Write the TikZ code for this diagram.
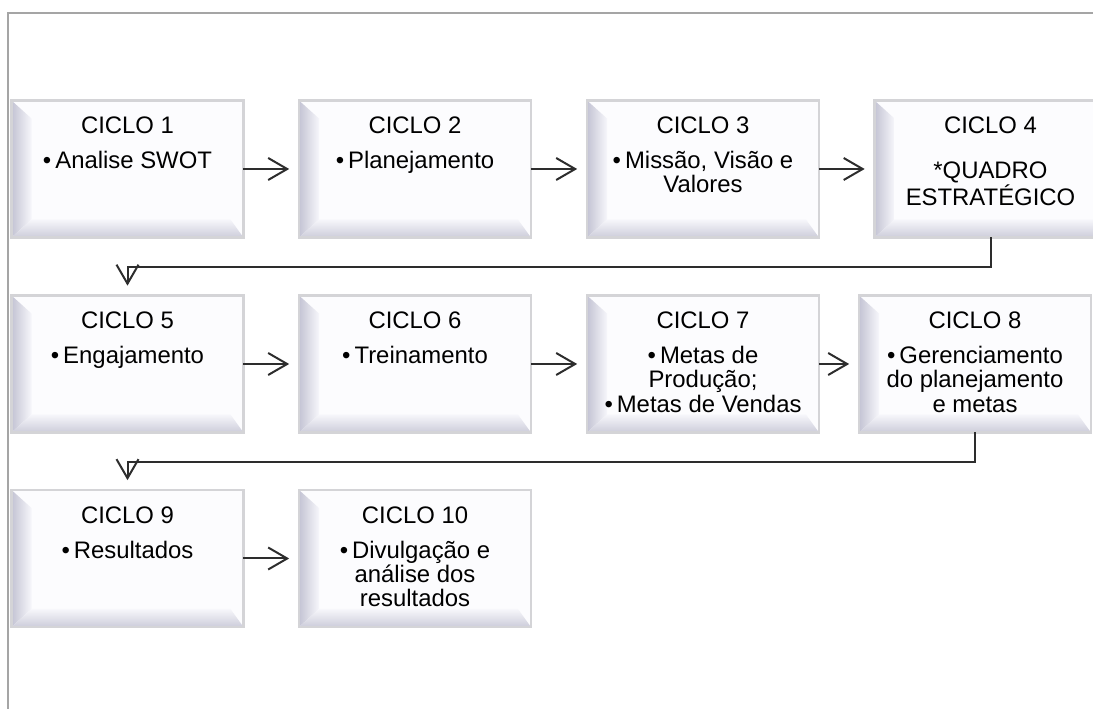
\documentclass[tikz,border=0pt]{standalone}
\usepackage{fontspec}
\setmainfont{Liberation Sans}
\usetikzlibrary{arrows.meta,backgrounds}

\definecolor{bordaCiclo}{RGB}{212,212,215}
\definecolor{fundoCiclo}{RGB}{252,252,254}
\definecolor{chanfroEsc}{RGB}{196,196,212}
\definecolor{chanfroClr}{RGB}{247,247,251}
\definecolor{seta}{RGB}{45,45,45}
\definecolor{moldura}{RGB}{165,165,165}

\newcommand{\cicloTexto}[3][0.22cm]{\parbox[c][2.72cm][t]{4.5cm}{\centering\rule{0pt}{0.65cm}#2\\[#1]#3}}

\tikzset{
  ciclo/.style={rectangle, inner sep=0pt, minimum width=4.62cm, minimum height=2.72cm,
    font=\fontsize{13.6pt}{13.8pt}\selectfont},
  fluxo/.style={draw=seta, line width=0.04cm, -{Straight Barb[length=0.38cm,width=0.44cm]},
    shorten >=0.2cm}
}

\begin{document}
\begin{tikzpicture}[x=0.02cm,y=-0.02cm]
    \useasboundingbox (0,0) rectangle (1093,709);

    % Frame
    \draw[moldura, line width=0.03cm] (1093,13) -- (8,13) -- (8,709);

    % Cycles
    \node[ciclo] (c1) at (127.5,169) {\cicloTexto{CICLO 1}{•\,Analise SWOT}};
    \node[ciclo] (c2) at (415,169) {\cicloTexto{CICLO 2}{•\,Planejamento}};
    \node[ciclo] (c3) at (703,169) {\cicloTexto{CICLO 3}{•\,Missão, Visão e\\Valores}};
    \node[ciclo] (c4) at (990.5,169) {\cicloTexto[0.41cm]{CICLO 4}{*QUADRO\\ESTRATÉGICO}};

    \node[ciclo] (c5) at (127.5,364) {\cicloTexto{CICLO 5}{•\,Engajamento}};
    \node[ciclo] (c6) at (415,364) {\cicloTexto{CICLO 6}{•\,Treinamento}};
    \node[ciclo] (c7) at (703,364) {\cicloTexto{CICLO 7}{•\,Metas de\\Produção;\\•\,Metas de Vendas}};
    \node[ciclo] (c8) at (975,364) {\cicloTexto{CICLO 8}{•\,Gerenciamento\\do planejamento\\e metas}};

    \node[ciclo] (c9) at (127.5,558.5) {\cicloTexto{CICLO 9}{•\,Resultados}};
    \node[ciclo] (c10) at (415,558.5) {\cicloTexto{CICLO 10}{•\,Divulgação e\\análise dos\\resultados}};

    % Bevelled boxes
    \begin{scope}[on background layer]
      \foreach \i in {1,...,10} {
        \fill[fundoCiclo] (c\i.south west) rectangle (c\i.north east);
        \shade[left color=chanfroEsc, right color=chanfroClr]
          (c\i.north west) -- (c\i.south west) -- ([shift={(20,-18)}]c\i.south west)
          -- ([shift={(20,18)}]c\i.north west) -- cycle;
        \shade[bottom color=chanfroEsc!85!white, top color=chanfroClr]
          (c\i.south west) -- (c\i.south east) -- ([shift={(-13,-18)}]c\i.south east)
          -- ([shift={(20,-18)}]c\i.south west) -- cycle;
        \draw[bordaCiclo, line width=0.05cm] (c\i.south west) rectangle (c\i.north east);
      }
    \end{scope}

    % Arrows
    \foreach \a/\b in {1/2,2/3,3/4,5/6,6/7,7/8,9/10}
      \draw[fluxo] (c\a.east) -- (c\b.west);
    \draw[fluxo] (c4.south) -- ++(0,30) -| (c5.north);
    \draw[fluxo] (c8.south) -- ++(0,30) -| (c9.north);
\end{tikzpicture}
\end{document}
